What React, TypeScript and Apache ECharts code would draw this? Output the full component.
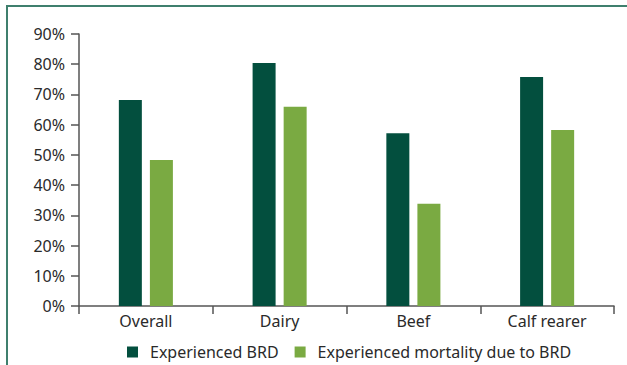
import React, { useEffect, useRef } from "react";
import * as echarts from "echarts";

const categories = ["Overall", "Dairy", "Beef", "Calf rearer"];
const experiencedBRD = [68.2, 80.4, 57.2, 75.8];
const mortalityBRD = [48.3, 65.9, 33.8, 58.2];
const seriesNames = ["Experienced BRD", "Experienced mortality due to BRD"];

const DARK = "#034f3e";
const LIGHT = "#7aaa42";
const FONT = "'Noto Sans', 'Open Sans', sans-serif";

export default function App() {
  const ref = useRef<HTMLDivElement>(null);

  useEffect(() => {
    if (!ref.current) return;
    const chart = echarts.init(ref.current, undefined, { renderer: "svg" });
    chart.setOption({
      animation: false,
      backgroundColor: "#ffffff",
      textStyle: { fontFamily: FONT },
      graphic: [
        {
          type: "line",
          shape: { x1: 6, y1: 6, x2: 627, y2: 6 },
          style: { stroke: "#3f7f6d", lineWidth: 2 },
        },
        {
          type: "line",
          shape: { x1: 7, y1: 5, x2: 7, y2: 365 },
          style: { stroke: "#3f7f6d", lineWidth: 2 },
        },
      ],
      grid: { left: 79, right: 13, top: 34, bottom: 59, containLabel: false },
      legend: {
        left: 122,
        top: 339,
        icon: "rect",
        itemWidth: 11,
        itemHeight: 11,
        itemGap: 16,
        data: seriesNames,
        textStyle: {
          fontFamily: FONT,
          fontSize: 16,
          color: "#2a2a2a",
          padding: [0, 0, 0, 7],
        },
      },
      xAxis: {
        type: "category",
        data: categories,
        axisLine: { lineStyle: { color: "#555555", width: 1.5 } },
        axisTick: { show: true, length: 8, alignWithLabel: false, lineStyle: { color: "#555555", width: 1.5 } },
        axisLabel: { fontFamily: FONT, fontSize: 16, color: "#2a2a2a", margin: 7 },
      },
      yAxis: {
        type: "value",
        min: 0,
        max: 90,
        interval: 10,
        splitLine: { show: false },
        axisLine: { show: true, lineStyle: { color: "#555555", width: 1.5 } },
        axisTick: { show: true, length: 8, lineStyle: { color: "#555555", width: 1.5 } },
        axisLabel: {
          fontFamily: FONT,
          fontSize: 16,
          color: "#2a2a2a",
          margin: 14,
          formatter: "{value}%",
        },
      },
      series: [
        {
          name: seriesNames[0],
          type: "bar",
          data: experiencedBRD,
          barWidth: 23,
          barGap: "35%",
          itemStyle: { color: DARK },
        },
        {
          name: seriesNames[1],
          type: "bar",
          data: mortalityBRD,
          barWidth: 23,
          itemStyle: { color: LIGHT },
        },
      ],
    });
    return () => chart.dispose();
  }, []);

  return (
    <div
      ref={ref}
      style={{ position: "fixed", left: 0, top: 0, width: 627, height: 365 }}
    />
  );
}
